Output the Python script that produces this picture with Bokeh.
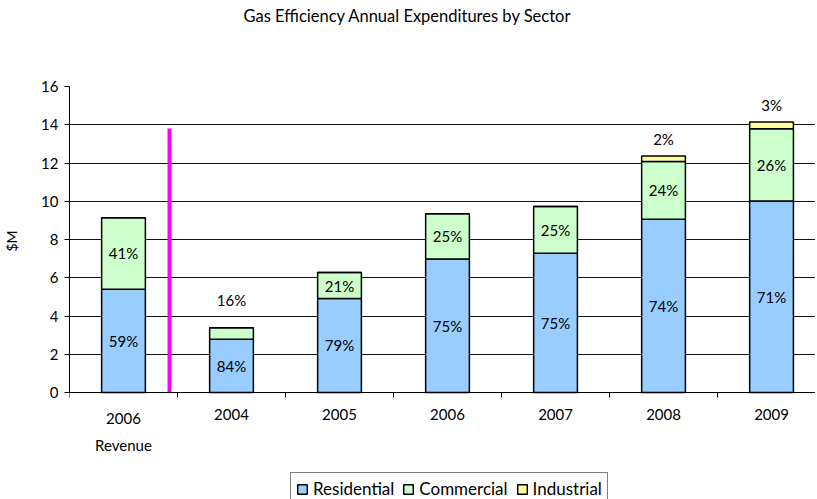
from bokeh.plotting import figure
from bokeh.models import Range1d, FixedTicker, Legend, LegendItem, ColumnDataSource, Span, Title
from bokeh.core.properties import value
from bokeh.embed import file_html
from bokeh.resources import INLINE

# ---- data ----
categories = ["2006\nRevenue", "2004", "2005", "2006", "2007", "2008", "2009"]
residential = [5.4, 2.78, 4.92, 6.98, 7.28, 9.06, 10.02]
commercial = [3.74, 0.61, 1.35, 2.37, 2.44, 3.02, 3.77]
industrial = [0.0, 0.0, 0.0, 0.0, 0.0, 0.29, 0.35]
pct_res = ["59%", "84%", "79%", "75%", "75%", "74%", "71%"]
pct_com = ["41%", "16%", "21%", "25%", "25%", "24%", "26%"]
pct_ind = ["", "", "", "", "", "2%", "3%"]
divider_top = 13.8
y_ticks = list(range(0, 17, 2))

FONT = "Lato"
n = len(categories)
xc = [i + 0.5 for i in range(n)]
res_top = residential
com_top = [r + c for r, c in zip(residential, commercial)]
ind_top = [t + i for t, i in zip(com_top, industrial)]

FRAME_H = 421
Y_MIN, Y_MAX = -6.01, 16
px_per_unit = FRAME_H / (Y_MAX - Y_MIN)

p = figure(frame_width=746, frame_height=FRAME_H, output_backend="svg", toolbar_location=None,
           x_range=Range1d(0, 6.907), y_range=Range1d(Y_MIN, Y_MAX), x_axis_location=None,
           title=None,
           min_border_left=63, min_border_right=0, min_border_top=0, min_border_bottom=0)
p.outline_line_color = None
p.background_fill_color = "white"
p.border_fill_color = "white"

# blank spacer (closest to the frame), then the visible title above it
p.add_layout(Title(text="\u00a0", text_color="white", text_font_size="14px", standoff=39), "above")
p.add_layout(Title(text="Gas Efficiency Annual Expenditures by Sector", align="left", offset=174,
                   text_font=FONT, text_font_style="normal", text_font_size="16.5px",
                   text_color="black", standoff=7), "above")

# grid
p.xgrid.grid_line_color = None
p.ygrid.ticker = FixedTicker(ticks=y_ticks)
p.ygrid.grid_line_color = "#111111"
p.ygrid.grid_line_width = 1

# y axis
p.yaxis.bounds = (0, 16)
p.yaxis.ticker = FixedTicker(ticks=y_ticks)
p.yaxis.axis_label = "\u2003" * 10 + "\u2002" + "$M"
p.yaxis.axis_label_text_font = FONT
p.yaxis.axis_label_text_font_style = "normal"
p.yaxis.axis_label_text_font_size = "14px"
p.yaxis.axis_label_text_color = "black"
p.yaxis.axis_label_standoff = 18
p.yaxis.major_label_text_font = FONT
p.yaxis.major_label_text_font_size = "15px"
p.yaxis.major_label_text_color = "black"
p.yaxis.major_tick_in = 0
p.yaxis.major_tick_out = 5
p.yaxis.minor_tick_line_color = None
p.yaxis.axis_line_color = "black"
p.yaxis.major_tick_line_color = "black"
p.yaxis.major_label_standoff = 6

# category axis (baseline, boundary ticks, labels)
p.add_layout(Span(location=0, dimension="width", line_color="black", line_width=1))
bounds_x = list(range(n + 1))
tick_len = 5 / px_per_unit
p.segment(x0=bounds_x, y0=[0] * len(bounds_x), x1=bounds_x, y1=[-tick_len] * len(bounds_x),
          line_color="black", line_width=1)
p.text(x=xc, y=[0] * n, text=categories, text_font=value(FONT), text_font_size="15px",
       text_align="center", text_baseline="top", y_offset=16, text_line_height=1.5,
       text_color="black")

src = ColumnDataSource(dict(x=xc, res=res_top, com=com_top, ind=ind_top, zero=[0] * n))
w = 0.405
r1 = p.vbar(x="x", bottom="zero", top="res", width=w, source=src,
            fill_color="#99CCFF", line_color="black", line_width=1.5)
r2 = p.vbar(x="x", bottom="res", top="com", width=w, source=src,
            fill_color="#CCFFCC", line_color="black", line_width=1.5)
r3 = p.vbar(x="x", bottom="com", top="ind", width=w, source=src,
            fill_color="#FFFF99", line_color="black", line_width=1.5)

# divider line
p.segment(x0=[0.926], y0=[0], x1=[0.926], y1=[divider_top], line_color="#FF00FF", line_width=4)

# value labels
lx, ly, lt = [], [], []
for i in range(n):
    lx.append(xc[i]); ly.append(residential[i] / 2); lt.append(pct_res[i])
    if commercial[i] < 1.0:
        lx.append(xc[i]); ly.append(com_top[i] + 1.45); lt.append(pct_com[i])
    else:
        lx.append(xc[i]); ly.append(residential[i] + commercial[i] / 2); lt.append(pct_com[i])
    if pct_ind[i]:
        lx.append(xc[i]); ly.append(ind_top[i] + 0.9); lt.append(pct_ind[i])
lsrc = ColumnDataSource(dict(x=lx, y=ly, t=lt))
p.text(x="x", y="y", text="t", source=lsrc, text_font=value(FONT), text_font_size="15px",
       text_align="center", text_baseline="middle", text_color="black")

legend = Legend(items=[LegendItem(label="Residential", renderers=[r1]),
                       LegendItem(label="Commercial", renderers=[r2]),
                       LegendItem(label="Industrial", renderers=[r3])],
                orientation="horizontal", location=(221, 2),
                label_text_font=FONT, label_text_font_size="17px", label_text_color="black",
                glyph_width=12, glyph_height=12, spacing=8, padding=5, margin=0,
                label_standoff=5, border_line_color="black", border_line_width=1,
                background_fill_color="white", background_fill_alpha=1)
p.add_layout(legend, "center")

open("out.html", "w").write(file_html(p, INLINE))
